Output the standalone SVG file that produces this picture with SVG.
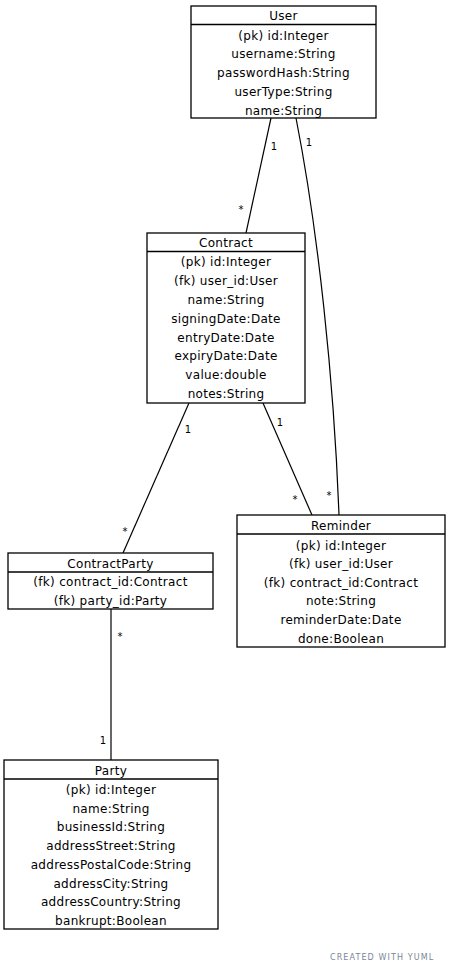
<svg xmlns="http://www.w3.org/2000/svg" width="450" height="973" viewBox="0 0 450 973">
<style>
.box{fill:#fff;stroke:#000;stroke-width:1.3}
.sep{stroke:#000;stroke-width:1.3}
.t{font-family:"DejaVu Sans",sans-serif;font-size:12px;fill:#000;text-anchor:middle;letter-spacing:0.3px}
.c{fill:none;stroke:#000;stroke-width:1.2}
.m{font-family:"DejaVu Sans",sans-serif;font-size:10px;fill:#000;text-anchor:middle}
.wm{font-family:"DejaVu Sans",sans-serif;font-size:8px;fill:#7a8698;letter-spacing:1.1px}
</style>
<rect width="450" height="973" fill="#fff"/>
<g id="connectors">
<path class="c" d="M271,118 L246,233"/>
<path class="c" d="M296,118 C318,230 334,380 339,515"/>
<path class="c" d="M189,403 L123,553"/>
<path class="c" d="M263,403 L312,515"/>
<path class="c" d="M111,609 L111,760"/>
<text class="m" x="274" y="150">1</text>
<text class="m" x="241" y="213">*</text>
<text class="m" x="309" y="146">1</text>
<text class="m" x="329" y="499">*</text>
<text class="m" x="188" y="433">1</text>
<text class="m" x="125" y="535">*</text>
<text class="m" x="280" y="426">1</text>
<text class="m" x="295" y="503">*</text>
<text class="m" x="120" y="640">*</text>
<text class="m" x="103" y="744">1</text>
</g>
<g id="User">
<rect class="box" x="191" y="6" width="185" height="112"/>
<line class="sep" x1="191" y1="24.5" x2="376" y2="24.5"/>
<text class="t" x="283.5" y="20">User</text>
<text class="t" x="283.5" y="39.5">(pk) id:Integer</text>
<text class="t" x="283.5" y="58">username:String</text>
<text class="t" x="283.5" y="77">passwordHash:String</text>
<text class="t" x="283.5" y="95.5">userType:String</text>
<text class="t" x="283.5" y="114.5">name:String</text>
</g>
<g id="Contract">
<rect class="box" x="147" y="233" width="158" height="170"/>
<line class="sep" x1="147" y1="251.5" x2="305" y2="251.5"/>
<text class="t" x="226" y="247">Contract</text>
<text class="t" x="226" y="266">(pk) id:Integer</text>
<text class="t" x="226" y="285">(fk) user_id:User</text>
<text class="t" x="226" y="304">name:String</text>
<text class="t" x="226" y="322.5">signingDate:Date</text>
<text class="t" x="226" y="341.5">entryDate:Date</text>
<text class="t" x="226" y="360">expiryDate:Date</text>
<text class="t" x="226" y="379">value:double</text>
<text class="t" x="226" y="397.5">notes:String</text>
</g>
<g id="Reminder">
<rect class="box" x="237" y="515" width="208" height="132"/>
<line class="sep" x1="237" y1="534" x2="445" y2="534"/>
<text class="t" x="341" y="529.5">Reminder</text>
<text class="t" x="341" y="549.5">(pk) id:Integer</text>
<text class="t" x="341" y="568">(fk) user_id:User</text>
<text class="t" x="341" y="586.5">(fk) contract_id:Contract</text>
<text class="t" x="341" y="605">note:String</text>
<text class="t" x="341" y="624">reminderDate:Date</text>
<text class="t" x="341" y="642.5">done:Boolean</text>
</g>
<g id="ContractParty">
<rect class="box" x="8" y="553" width="205" height="56"/>
<line class="sep" x1="8" y1="572" x2="213" y2="572"/>
<text class="t" x="110.5" y="567.5">ContractParty</text>
<text class="t" x="110.5" y="586">(fk) contract_id:Contract</text>
<text class="t" x="110.5" y="605">(fk) party_id:Party</text>
</g>
<g id="Party">
<rect class="box" x="4" y="760" width="214" height="169"/>
<line class="sep" x1="4" y1="779" x2="218" y2="779"/>
<text class="t" x="111" y="774.5">Party</text>
<text class="t" x="111" y="793.5">(pk) id:Integer</text>
<text class="t" x="111" y="812.5">name:String</text>
<text class="t" x="111" y="831">businessId:String</text>
<text class="t" x="111" y="850">addressStreet:String</text>
<text class="t" x="111" y="868.5">addressPostalCode:String</text>
<text class="t" x="111" y="887.5">addressCity:String</text>
<text class="t" x="111" y="906">addressCountry:String</text>
<text class="t" x="111" y="925">bankrupt:Boolean</text>
</g>
<text class="wm" x="330" y="960">CREATED WITH YUML</text>
</svg>
